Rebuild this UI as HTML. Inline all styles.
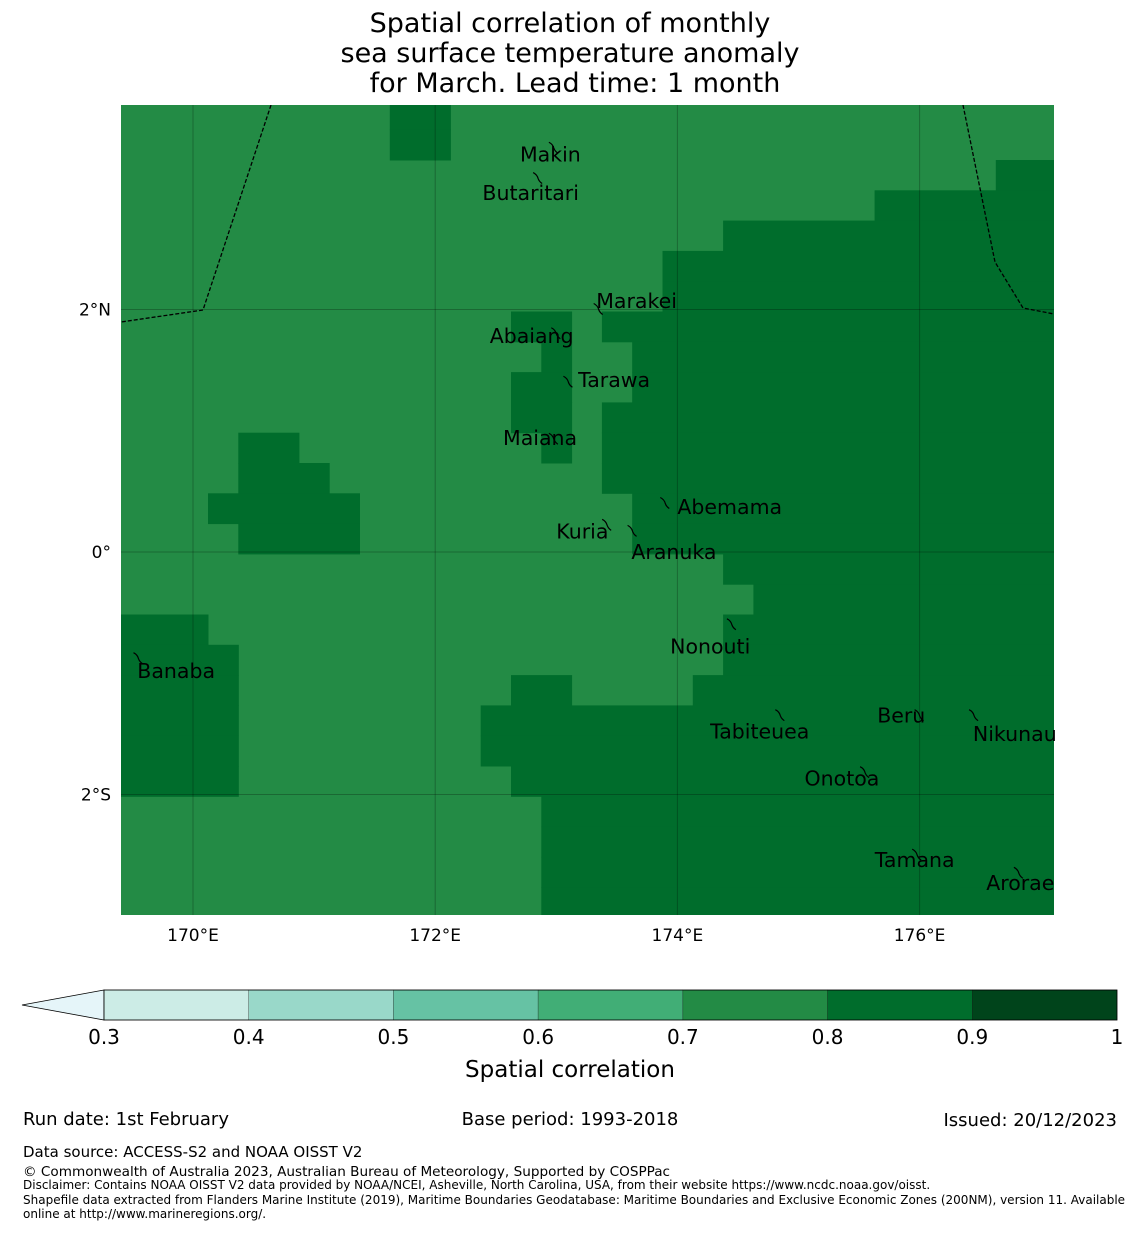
<!DOCTYPE html>
<html><head><meta charset="utf-8"><style>
body{margin:0;background:#fff;}
text{font-family:"DejaVu Sans","Liberation Sans",sans-serif;}
</style></head><body>
<svg width="1140" height="1230" viewBox="0 0 1140 1230">
<g font-size="27" text-anchor="middle" fill="#000">
<text x="570" y="32">Spatial correlation of monthly</text>
<text x="570" y="62">sea surface temperature anomaly</text>
<text x="575" y="92">for March. Lead time: 1 month</text>
</g>
<defs><clipPath id="mapclip"><rect x="121" y="105" width="933" height="810"/></clipPath></defs>
<g id="map" clip-path="url(#mapclip)"></g>
<g id="labels"></g>
<g id="cb"></g>
<text x="570" y="1077" font-size="23" text-anchor="middle">Spatial correlation</text>
<g font-size="18">
<text x="23" y="1125">Run date: 1st February</text>
<text x="570" y="1125" text-anchor="middle">Base period: 1993-2018</text>
<text x="1117" y="1126" text-anchor="end">Issued: 20/12/2023</text>
<text x="23" y="1157" font-size="15">Data source: ACCESS-S2 and NOAA OISST V2</text>
<text x="23" y="1176" font-size="13.6">© Commonwealth of Australia 2023, Australian Bureau of Meteorology, Supported by COSPPac</text>
<text x="23" y="1189" font-size="12">Disclaimer: Contains NOAA OISST V2 data provided by NOAA/NCEI, Asheville, North Carolina, USA, from their website https://www.ncdc.noaa.gov/oisst.</text>
<text x="23" y="1204" font-size="12">Shapefile data extracted from Flanders Marine Institute (2019), Maritime Boundaries Geodatabase: Maritime Boundaries and Exclusive Economic Zones (200NM), version 11. Available</text>
<text x="23" y="1218" font-size="12">online at http://www.marineregions.org/.</text>
</g>
</svg>
<script>
const rowRuns=[
[[9,10]],[[9,10]],[[29,30]],[[25,30]],[[20,30]],[[18,30]],[[18,30]],
[[13,14],[16,30]],[[14,14],[17,30]],[[13,14],[17,30]],[[13,14],[16,30]],
[[4,5],[14,14],[16,30]],[[4,6],[16,30]],[[3,7],[17,30]],[[4,7],[17,30]],
[[20,30]],[[21,30]],[[0,2],[20,30]],[[0,3],[20,30]],[[0,3],[13,14],[19,30]],
[[0,3],[12,30]],[[0,3],[12,30]],[[0,3],[13,30]],[[14,30]],[[14,30]],[[14,30]],[[14,30]]];
const lonTicks=[170,172,174,176];
const lonLabels=["170°E","172°E","174°E","176°E"];
const latTicks=[2,0,-2];
const latLabels=["2°N","0°","2°S"];
const levels=[0.3,0.4,0.5,0.6,0.7,0.8,0.9,1];
const levelColors=["#ccece6","#99d8c9","#66c2a4","#41ae76","#238b45","#006d2c","#00441b"];
// name, island lon, island lat, label lon, label lat
const islands=[["Makin",172.98,3.33,172.7,3.28],["Butaritari",172.85,3.08,172.39,2.96],["Marakei",173.35,2.0,173.33,2.07],["Abaiang",173.0,1.8,172.45,1.78],["Tarawa",173.1,1.4,173.18,1.42],["Maiana",172.98,0.93,172.56,0.94],["Abemama",173.9,0.4,174.0,0.37],["Kuria",173.42,0.22,173.0,0.17],["Aranuka",173.63,0.17,173.62,0.0],["Nonouti",174.45,-0.6,173.94,-0.78],["Banaba",169.55,-0.88,169.54,-0.98],["Tabiteuea",174.85,-1.35,174.27,-1.48],["Beru",176.0,-1.35,175.65,-1.35],["Nikunau",176.45,-1.35,176.44,-1.5],["Onotoa",175.55,-1.82,175.05,-1.87],["Tamana",175.98,-2.5,175.63,-2.54],["Arorae",176.82,-2.65,176.55,-2.73]];
const NS="http://www.w3.org/2000/svg";
const X=lon=>193+(lon-170)*121.1, Y=lat=>552-lat*121.25;
const cw=30.3, x0=117.1, y0=99.4;
const map=document.getElementById('map');
const labels=document.getElementById('labels');
function mk(t,a,p){const e=document.createElementNS(NS,t);for(const k in a)e.setAttribute(k,a[k]);(p||map).appendChild(e);return e;}
let bg=mk('rect',{x:121,y:105,width:933,height:810,fill:levelColors[4]});


rowRuns.forEach((runs,j)=>runs.forEach(r=>{
 let c=mk('rect',{x:x0+r[0]*cw,y:y0+j*cw,width:(r[1]-r[0]+1)*cw+0.5,height:cw+0.5,fill:levelColors[5]});
 
 
}));
lonTicks.forEach((l,i)=>{let g=mk('line',{x1:X(l),x2:X(l),y1:105,y2:915,stroke:"#000","stroke-opacity":0.25,"stroke-width":1});
 });
latTicks.forEach(l=>{let g=mk('line',{x1:121,x2:1054,y1:Y(l),y2:Y(l),stroke:"#000","stroke-opacity":0.25,"stroke-width":1});
 });
let e1=mk('polyline',{points:"271,105 203,310 121,322",fill:"none",stroke:"#000","stroke-dasharray":"4,2","stroke-width":1.3});

let e2=mk('polyline',{points:"963,105 995,262 1023,308 1054,314",fill:"none",stroke:"#000","stroke-dasharray":"4,2","stroke-width":1.3});

islands.forEach(s=>{
 let x=X(s[1]),y=Y(s[2]);
 let p=mk('path',{d:`M${x-5},${y-6} q4,2 5,6 q1,3 4,5`,fill:"none",stroke:"#000","stroke-width":1.2},labels);
 
 let t=mk('text',{x:X(s[3]),y:Y(s[4])+7,"font-size":20.5,fill:"#000"},labels);t.textContent=s[0];
 
});
const svg=document.querySelector('svg');
lonTicks.forEach((l,i)=>{let t=mk('text',{x:X(l),y:941,"font-size":17,"text-anchor":"middle"},svg);t.textContent=lonLabels[i];
 });
latTicks.forEach((l,i)=>{let t=mk('text',{x:111,y:Y(l)+6,"font-size":17,"text-anchor":"end"},svg);t.textContent=latLabels[i];
 });
const cb=document.getElementById('cb');
const CX=v=>104+(v-0.3)/0.7*1013;
let tri=mk('polygon',{points:`104,990 22,1005 104,1020`,fill:"#e5f5f9",stroke:"#000","stroke-width":0.8},cb);

levelColors.forEach((c,i)=>{let r=mk('rect',{x:CX(levels[i]),y:990,width:CX(levels[i+1])-CX(levels[i]),height:30,fill:c,stroke:"#000","stroke-width":0.5,"stroke-opacity":0.5},cb);
 });
mk('rect',{x:104,y:990,width:1013,height:30,fill:"none",stroke:"#000","stroke-width":0.8},cb);
levels.forEach(v=>{let t=mk('text',{x:CX(v),y:1044,"font-size":20,"text-anchor":"middle"},cb);t.textContent=String(v);
 });
</script>
</body></html>
